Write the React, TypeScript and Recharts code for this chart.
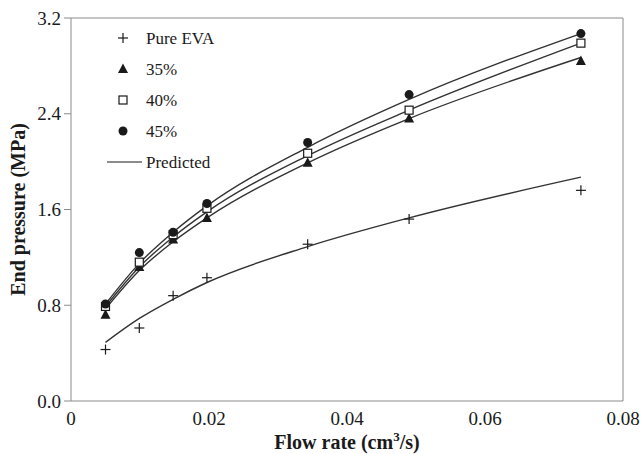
import * as React from 'react'
import { ComposedChart, Line, Scatter, XAxis, YAxis, ReferenceLine } from 'recharts'

// flow rate (cm3/s) and measured / predicted end pressure (MPa)
const flowRate = [0.005, 0.0099, 0.0148, 0.0197, 0.0343, 0.049, 0.0739]
const pureEva = [0.43, 0.61, 0.88, 1.03, 1.31, 1.52, 1.76]
const eva35 = [0.72, 1.12, 1.35, 1.53, 1.99, 2.36, 2.84]
const eva40 = [0.79, 1.16, 1.39, 1.61, 2.07, 2.43, 2.99]
const eva45 = [0.81, 1.24, 1.41, 1.65, 2.16, 2.56, 3.07]
const predEva = [0.49, 0.69, 0.85, 0.99, 1.29, 1.53, 1.87]
const pred35 = [0.77, 1.09, 1.33, 1.53, 1.99, 2.36, 2.87]
const pred40 = [0.79, 1.12, 1.37, 1.58, 2.05, 2.43, 2.99]
const pred45 = [0.81, 1.15, 1.41, 1.63, 2.12, 2.52, 3.07]

const xTicks = [0, 0.02, 0.04, 0.06, 0.08]
const yTicks = [0, 0.8, 1.6, 2.4, 3.2]
const legendItems = ['Pure EVA', '35%', '40%', '45%', 'Predicted']

const rows = flowRate.map((q, i) => ({
  q,
  pureEva: pureEva[i],
  eva35: eva35[i],
  eva40: eva40[i],
  eva45: eva45[i],
  predEva: predEva[i],
  pred35: pred35[i],
  pred40: pred40[i],
  pred45: pred45[i]
}))

const FONT = '"Liberation Serif", "DejaVu Serif", serif'
const INK = '#1a1a1a'
const AXIS = '#8a8a8a'

function Plus({ cx, cy }: { cx?: number; cy?: number }) {
  return (
    <g stroke={INK} strokeWidth={1.2}>
      <line x1={cx! - 5} x2={cx! + 5} y1={cy} y2={cy} />
      <line x1={cx} x2={cx} y1={cy! - 5} y2={cy! + 5} />
    </g>
  )
}

function Tri({ cx, cy }: { cx?: number; cy?: number }) {
  return <path d={`M${cx},${cy! - 5.5}L${cx! + 5},${cy! + 4}L${cx! - 5},${cy! + 4}Z`} fill={INK} />
}

function Sq({ cx, cy }: { cx?: number; cy?: number }) {
  return <rect x={cx! - 4} y={cy! - 4} width={8} height={8} fill='#fff' stroke={INK} strokeWidth={1.2} />
}

function Dot({ cx, cy }: { cx?: number; cy?: number }) {
  return <circle cx={cx} cy={cy} r={4.5} fill={INK} />
}

const markers = [Plus, Tri, Sq, Dot]

function XTitle(props: any) {
  const vb = props.viewBox
  return (
    <text x={vb.x + vb.width / 2} y={vb.y + 48} textAnchor='middle' fontFamily={FONT} fontWeight='bold' fontSize={20} fill={INK}>
      <tspan>Flow rate (cm</tspan>
      <tspan dy={-8} fontSize={13}>3</tspan>
      <tspan dy={8}>/s)</tspan>
    </text>
  )
}

function YTitle(props: any) {
  const vb = props.viewBox
  const x = 25
  const y = vb.y + vb.height / 2
  return (
    <text x={x} y={y} transform={`rotate(-90 ${x} ${y})`} textAnchor='middle' fontFamily={FONT} fontWeight='bold' fontSize={20} fill={INK}>
      End pressure (MPa)
    </text>
  )
}

function LegendBox() {
  const rowY = [38, 69, 100, 131, 162]
  return (
    <svg width={642} height={454} style={{ position: 'absolute', left: 0, top: 0, pointerEvents: 'none' }}>
      {legendItems.map((name, i) => {
        const M = markers[i]
        return (
          <g key={name}>
            {M ? <M cx={123} cy={rowY[i]} /> : <line x1={107} x2={142} y1={rowY[i]} y2={rowY[i]} stroke={INK} strokeWidth={1.2} />}
            <text x={146} y={rowY[i] + 6} fontFamily={FONT} fontSize={17} fill={INK}>
              {name}
            </text>
          </g>
        )
      })}
    </svg>
  )
}

export default function App() {
  return (
    <div style={{ position: 'absolute', left: 0, top: 0, width: 642, height: 454, background: '#fff' }}>
      <ComposedChart width={642} height={454} data={rows} margin={{ top: 18, right: 19, bottom: 0, left: 0 }}>
        <XAxis
          dataKey='q'
          type='number'
          domain={[0, 0.08]}
          ticks={xTicks}
          tickFormatter={(v: number) => (v === 0 ? '0' : String(v))}
          height={53}
          stroke={AXIS}
          tickLine={false}
          tickMargin={5}
          tick={{ fontFamily: FONT, fontSize: 19, fill: INK }}
          label={{ content: XTitle }}
        />
        <YAxis
          type='number'
          domain={[0, 3.2]}
          ticks={yTicks}
          tickFormatter={(v: number) => v.toFixed(1)}
          width={71}
          stroke={AXIS}
          tickSize={7}
          tickMargin={3}
          tick={{ fontFamily: FONT, fontSize: 19, fill: INK }}
          label={{ content: YTitle }}
        />
        <ReferenceLine y={3.2} stroke={AXIS} />
        <ReferenceLine x={0.08} stroke={AXIS} />
        <Line dataKey='predEva' type='monotone' stroke='#333' strokeWidth={1.4} dot={false} isAnimationActive={false} />
        <Line dataKey='pred35' type='monotone' stroke='#333' strokeWidth={1.4} dot={false} isAnimationActive={false} />
        <Line dataKey='pred40' type='monotone' stroke='#333' strokeWidth={1.4} dot={false} isAnimationActive={false} />
        <Line dataKey='pred45' type='monotone' stroke='#333' strokeWidth={1.4} dot={false} isAnimationActive={false} />
        <Scatter dataKey='pureEva' shape={<Plus />} isAnimationActive={false} />
        <Scatter dataKey='eva35' shape={<Tri />} isAnimationActive={false} />
        <Scatter dataKey='eva40' shape={<Sq />} isAnimationActive={false} />
        <Scatter dataKey='eva45' shape={<Dot />} isAnimationActive={false} />
      </ComposedChart>
      <LegendBox />
    </div>
  )
}
